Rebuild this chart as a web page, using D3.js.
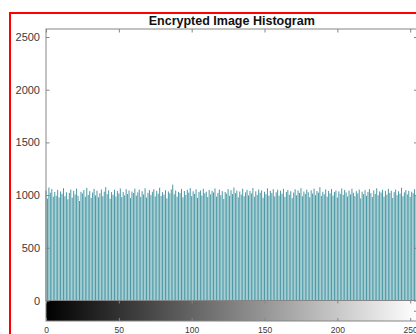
<!DOCTYPE html>
<html>
<head>
<meta charset="utf-8">
<script src="https://cdn.jsdelivr.net/npm/d3@7"></script>
<style>
  html, body { margin: 0; padding: 0; background: #fff; }
  svg { display: block; font-family: "Liberation Sans", Arial, Helvetica, sans-serif; }
</style>
</head>
<body>
<svg id="chart" width="416" height="334"></svg>
<script>
// Histogram of pixel intensities (256 gray levels) of the encrypted image
const titleText = "Encrypted Image Histogram";
const grayLevels = d3.range(0, 256);
const pixelCounts = [
  1044, 967, 1072, 1023, 1057, 985, 1030, 994, 1050, 978, 1035, 1012, 1066, 989, 1027, 960,
  1021, 1053, 976, 1040, 1007, 1062, 993, 944, 1031, 1016, 1048, 984, 1069, 1001, 1038, 973,
  1025, 1059, 997, 1042, 980, 1018, 1054, 990, 1033, 1075, 1009, 1046, 966, 1028, 1003, 1051,
  987, 1040, 1015, 1063, 981, 1029, 998, 1056, 1011, 1044, 972, 1034, 1020, 1061, 995, 1026,
  1052, 983, 1037, 1006, 1065, 977, 1022, 1048, 1000, 1032, 1056, 988, 1041, 1013, 1070, 992,
  1028, 1004, 1047, 969, 1035, 1017, 1054, 1099, 1008, 1043, 985, 1031, 1019, 1058, 979, 1039,
  1002, 1050, 1024, 1067, 991, 1036, 1012, 1055, 974, 1029, 1045, 996, 1060, 1018, 1033, 982,
  1049, 1007, 1041, 1025, 1063, 986, 1021, 1052, 999, 1038, 964, 1030, 1014, 1057, 993, 1046,
  1010, 1072, 1019, 1043, 978, 1034, 1005, 1061, 990, 1026, 1050, 997, 1039, 1016, 1068, 984,
  1036, 1001, 1053, 1022, 1045, 975, 1032, 1009, 1064, 994, 1040, 1018, 1056, 988, 1027, 1051,
  995, 1042, 1013, 1059, 983, 1030, 1048, 1003, 1037, 971, 1024, 1055, 998, 1044, 1020, 1066,
  989, 1034, 1011, 1052, 1027, 980, 1046, 1015, 1062, 1000, 1039, 1023, 1075, 992, 1031, 1008,
  1054, 985, 1040, 1017, 1058, 996, 1029, 1044, 977, 1036, 1012, 1063, 1002, 1049, 1025, 987,
  1043, 1006, 1061, 1022, 991, 1038, 1016, 1052, 968, 1033, 1009, 1047, 994, 1030, 1057, 1019,
  982, 1045, 1011, 1065, 998, 1035, 1024, 1051, 986, 1040, 1004, 1060, 1021, 1042, 973, 1028,
  1053, 999, 1037, 1014, 1069, 990, 1026, 1048, 1007, 1041, 984, 1032, 1018, 1056, 995, 1046
];
const yTickValues = [0, 500, 1000, 1500, 2000, 2500];
const xTickValues = [0, 50, 100, 150, 200, 250];
const xDomain = [0, 255];
const yDomain = [0, 2576];

const svg = d3.select("#chart");

// layout
const plotLeft = 46, plotRight = 417.5, plotTop = 29, plotBase = 300.5, stripBottom = 321;
const axisColor = "#858585";
const labelColor = "#3a3a3a";
const stemColor = "#4a99a5";

const x = d3.scaleLinear().domain(xDomain).range([plotLeft, plotRight]);
const y = d3.scaleLinear().domain(yDomain).range([plotBase, plotTop]);

// outer frame
svg.append("rect")
  .attr("x", 10).attr("y", 13)
  .attr("width", 430).attr("height", 340)
  .attr("fill", "none").attr("stroke", "#ff0000").attr("stroke-width", 2);

// title
svg.append("text")
  .attr("x", (plotLeft + plotRight) / 2).attr("y", 24.5)
  .attr("text-anchor", "middle")
  .attr("font-size", 12.5).attr("font-weight", "bold")
  .attr("fill", "#111")
  .text(titleText);

// stems
svg.append("g").selectAll("line")
  .data(grayLevels)
  .join("line")
  .attr("x1", d => x(d)).attr("x2", d => x(d))
  .attr("y1", y(0)).attr("y2", d => y(pixelCounts[d]))
  .attr("stroke", stemColor).attr("stroke-width", 1);

// gray-level colour strip under the histogram
const defs = svg.append("defs");
const grad = defs.append("linearGradient").attr("id", "grayRamp")
  .attr("gradientUnits", "userSpaceOnUse")
  .attr("x1", x(0)).attr("x2", x(255)).attr("y1", 0).attr("y2", 0);
grad.append("stop").attr("offset", "0%").attr("stop-color", "#000");
grad.append("stop").attr("offset", "100%").attr("stop-color", "#fff");
svg.append("rect")
  .attr("x", x(0)).attr("y", plotBase)
  .attr("width", x(255) - x(0)).attr("height", stripBottom - plotBase)
  .attr("fill", "url(#grayRamp)");

function styleAxis(g) {
  g.select(".domain").remove();
  g.selectAll(".tick line").attr("stroke", axisColor);
  g.selectAll(".tick text").attr("fill", labelColor);
}

// histogram axes
svg.append("g").attr("transform", `translate(${plotLeft},0)`)
  .call(d3.axisLeft(y).tickValues(yTickValues).tickSize(-3.5).tickPadding(6).tickFormat(d3.format("d")))
  .call(styleAxis)
  .call(g => g.selectAll(".tick text").attr("font-size", 11).attr("font-family", "Liberation Sans, Arial, sans-serif"));

svg.append("g").attr("transform", `translate(${plotRight},0)`)
  .call(d3.axisRight(y).tickValues(yTickValues).tickSize(-3.5).tickFormat(""))
  .call(styleAxis);

svg.append("g").attr("transform", `translate(0,${plotTop})`)
  .call(d3.axisTop(x).tickValues(xTickValues).tickSize(-3.5).tickFormat(""))
  .call(styleAxis);

// strip axes
svg.append("g").attr("transform", `translate(0,${plotBase})`)
  .call(d3.axisTop(x).tickValues(xTickValues).tickSize(-3).tickFormat(""))
  .call(styleAxis);

svg.append("g").attr("transform", `translate(0,${stripBottom})`)
  .call(d3.axisBottom(x).tickValues(xTickValues).tickSize(-3).tickPadding(6))
  .call(styleAxis)
  .call(g => g.selectAll(".tick text").attr("font-size", 8.5).attr("font-family", "Liberation Sans, Arial, sans-serif"));

svg.append("g").attr("transform", `translate(${plotRight},0)`)
  .call(d3.axisRight(d3.scaleLinear().domain([0, 1]).range([stripBottom, plotBase])).tickValues([0.5]).tickSize(-3.5).tickFormat(""))
  .call(styleAxis);

// axis boxes
svg.append("rect")
  .attr("x", plotLeft).attr("y", plotTop).attr("width", plotRight - plotLeft).attr("height", plotBase - plotTop)
  .attr("fill", "none").attr("stroke", axisColor).attr("stroke-width", 1);
svg.append("rect")
  .attr("x", plotLeft).attr("y", plotBase).attr("width", plotRight - plotLeft).attr("height", stripBottom - plotBase)
  .attr("fill", "none").attr("stroke", axisColor).attr("stroke-width", 1);
</script>
</body>
</html>
